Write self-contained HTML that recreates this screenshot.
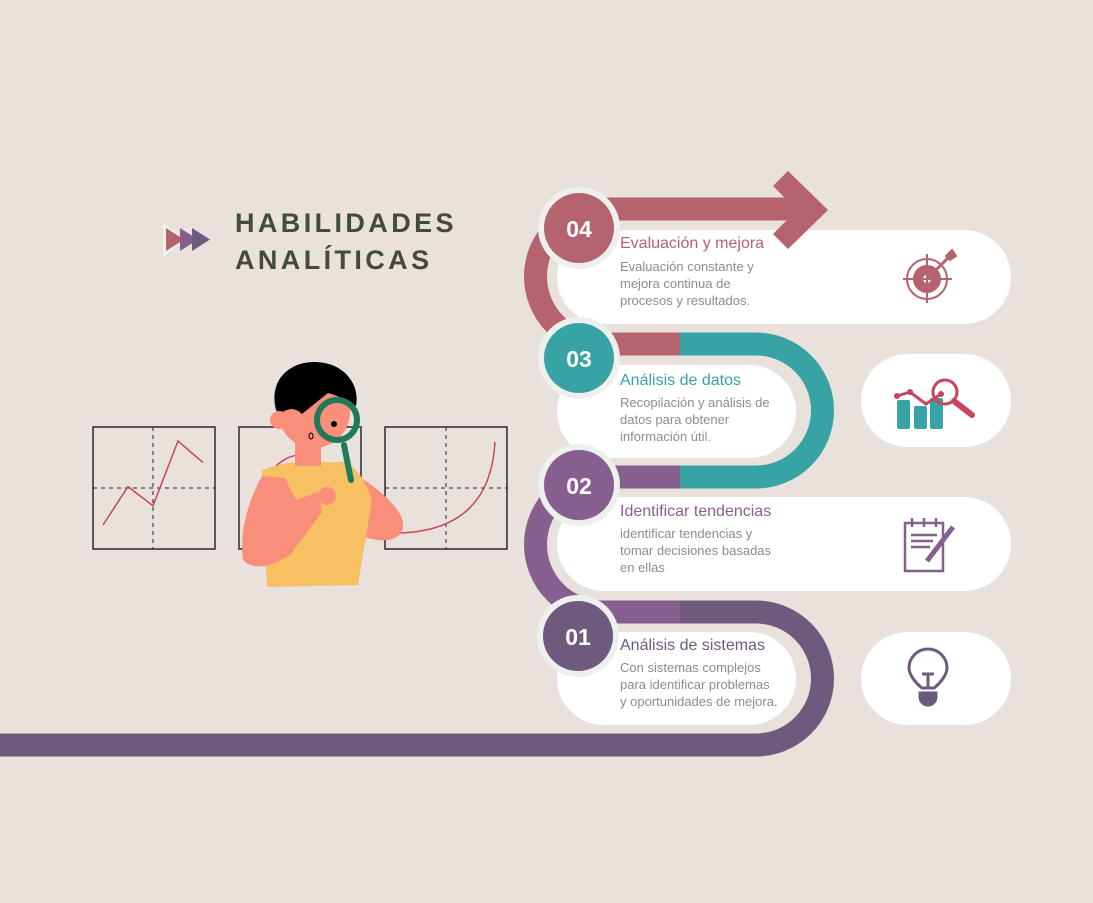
<!DOCTYPE html>
<html><head><meta charset="utf-8"><style>
html,body{margin:0;padding:0;background:#e8e1dc;}
svg{display:block;font-family:"Liberation Sans",sans-serif;}
</style></head><body>
<svg width="1093" height="903" viewBox="0 0 1093 903">
<rect width="1093" height="903" fill="#e8e1dc"/>
<!-- title -->
<g>
<polygon points="163,222 186,239.5 163,257" fill="#eef0ee"/>
<polygon points="166,228 184,239.5 166,251" fill="#b5636f"/>
<polygon points="180,228 198,239.5 180,251" fill="#865f8e"/>
<polygon points="192,228 210,239.5 192,251" fill="#6d5a7c"/>
</g>
<text x="235" y="232" font-size="27" font-weight="bold" letter-spacing="3.4" fill="#434a3f">HABILIDADES</text>
<text x="235" y="269" font-size="27" font-weight="bold" letter-spacing="3.4" fill="#434a3f">ANALÍTICAS</text>

<!-- path bands -->
<g fill="none" stroke-width="23">
<path d="M0,745 H756 A66.5,66.5 0 0 0 756,612 H680" stroke="#6d5a7c"/>
<path d="M680,612 H603 A67.5,67.5 0 0 1 603,477 H680" stroke="#865f8e"/>
<path d="M680,477 H756 A66.5,66.5 0 0 0 756,344 H680" stroke="#38a3a5"/>
<path d="M680,344 H603 A67.5,67.5 0 0 1 603,209 H805" stroke="#b5636f"/>
</g>

<!-- pills -->
<g fill="#ffffff">
<rect x="557" y="230" width="454" height="94" rx="47"/>
<rect x="557" y="365" width="239" height="93" rx="46.5"/>
<rect x="861" y="354" width="150" height="93" rx="46.5"/>
<rect x="557" y="497" width="454" height="94" rx="47"/>
<rect x="557" y="632" width="239" height="93" rx="46.5"/>
<rect x="861" y="632" width="150" height="93" rx="46.5"/>
</g>
<polygon points="773,186 788,171 828,210 788,249 773,234 797,210" fill="#b5636f"/>

<!-- circles -->
<g><circle cx="579" cy="228" r="41" fill="#eef0ee"/><circle cx="579" cy="228" r="35" fill="#b5636f"/><text x="579" y="237" font-size="23" font-weight="bold" fill="#fff" text-anchor="middle">04</text></g>
<g><circle cx="579" cy="358" r="41" fill="#eef0ee"/><circle cx="579" cy="358" r="35" fill="#38a3a5"/><text x="579" y="367" font-size="23" font-weight="bold" fill="#fff" text-anchor="middle">03</text></g>
<g><circle cx="579" cy="485" r="41" fill="#eef0ee"/><circle cx="579" cy="485" r="35" fill="#865f8e"/><text x="579" y="494" font-size="23" font-weight="bold" fill="#fff" text-anchor="middle">02</text></g>
<g><circle cx="578" cy="636" r="41" fill="#eef0ee"/><circle cx="578" cy="636" r="35" fill="#6d5a7c"/><text x="578" y="645" font-size="23" font-weight="bold" fill="#fff" text-anchor="middle">01</text></g>

<!-- texts -->
<g font-size="13" fill="#8c8c8c">
<text x="620" y="248" font-size="16" fill="#b5636f">Evaluación y mejora</text>
<text x="620" y="271"><tspan x="620">Evaluación constante y</tspan><tspan x="620" dy="17">mejora continua de</tspan><tspan x="620" dy="17">procesos y resultados.</tspan></text>
<text x="620" y="385" font-size="16" fill="#38a3a5">Análisis de datos</text>
<text x="620" y="407"><tspan x="620">Recopilación y análisis de</tspan><tspan x="620" dy="17">datos para obtener</tspan><tspan x="620" dy="17">información útil.</tspan></text>
<text x="620" y="516" font-size="16" fill="#865f8e">Identificar tendencias</text>
<text x="620" y="538"><tspan x="620">identificar tendencias y</tspan><tspan x="620" dy="17">tomar decisiones basadas</tspan><tspan x="620" dy="17">en ellas</tspan></text>
<text x="620" y="650" font-size="16" fill="#6d5a7c">Análisis de sistemas</text>
<text x="620" y="672"><tspan x="620">Con sistemas complejos</tspan><tspan x="620" dy="17">para identificar problemas</tspan><tspan x="620" dy="17">y oportunidades de mejora.</tspan></text>
</g>

<!-- icons -->
<g stroke="#b5636f" fill="none" stroke-width="2">
<circle cx="927" cy="279" r="20"/><circle cx="927" cy="279" r="13" fill="#b5636f"/><circle cx="927" cy="279" r="4" fill="#fff" stroke="none"/>
<line x1="927" y1="254" x2="927" y2="303"/><line x1="903" y1="279" x2="952" y2="279"/>
<line x1="927" y1="279" x2="952" y2="254" stroke-width="3"/><polygon points="946,256 952,250 956,256 950,260" fill="#b5636f"/>
</g>
<g>
<rect x="897" y="400" width="13" height="29" rx="2" fill="#38a3a5"/>
<rect x="914" y="406" width="13" height="23" rx="2" fill="#38a3a5"/>
<rect x="930" y="398" width="13" height="31" rx="2" fill="#38a3a5"/>
<polyline points="897,396 910,392 926,404 941,394" fill="none" stroke="#c9445f" stroke-width="3"/>
<circle cx="897" cy="396" r="3" fill="#c9445f"/><circle cx="910" cy="392" r="3" fill="#c9445f"/><circle cx="941" cy="394" r="3" fill="#c9445f"/>
<circle cx="945" cy="392" r="12" fill="none" stroke="#c9445f" stroke-width="3"/>
<line x1="954" y1="401" x2="972" y2="415" stroke="#c9445f" stroke-width="6" stroke-linecap="round"/>
</g>
<g stroke="#865f8e" fill="none" stroke-width="2.5">
<rect x="905" y="523" width="38" height="48"/>
<line x1="912" y1="518" x2="912" y2="527"/><line x1="924" y1="518" x2="924" y2="527"/><line x1="936" y1="518" x2="936" y2="527"/>
<line x1="911" y1="535" x2="937" y2="535"/><line x1="911" y1="541" x2="933" y2="541"/><line x1="911" y1="547" x2="930" y2="547"/>
<line x1="927" y1="561" x2="953" y2="527" stroke-width="5"/>
</g>
<g stroke="#6d5a7c" fill="none" stroke-width="3">
<path d="M922,688 C912,680 909,672 909,668 A19,19 0 1 1 947,668 C947,672 944,680 934,688 Z"/>
<line x1="922" y1="674" x2="934" y2="674"/><line x1="928" y1="674" x2="928" y2="688"/>
<path d="M920,693 H936 V697 A8,8 0 0 1 920,697 Z" fill="#6d5a7c"/>
</g>

<!-- illustration -->
<g>
<rect x="93" y="427" width="122" height="122" fill="none" stroke="#2a2a2a" stroke-width="1.5"/>
<line x1="153" y1="427" x2="153" y2="549" stroke="#222" stroke-dasharray="4,4"/>
<line x1="93" y1="488" x2="215" y2="488" stroke="#222" stroke-dasharray="4,4"/>
<polyline id="lineL" fill="none" stroke="#c9445f" stroke-width="1.5"/>
</g>
<g>
<rect x="239" y="427" width="122" height="122" fill="none" stroke="#2a2a2a" stroke-width="1.5"/>
<path d="M272,470 Q300,440 330,470" fill="none" stroke="#c9445f" stroke-width="1.5"/>
</g>
<g>
<rect x="385" y="427" width="122" height="122" fill="none" stroke="#2a2a2a" stroke-width="1.5"/>
<line x1="446" y1="427" x2="446" y2="549" stroke="#222" stroke-dasharray="4,4"/>
<line x1="385" y1="488" x2="507" y2="488" stroke="#222" stroke-dasharray="4,4"/>
<path d="M400,533 Q490,530 495,442" fill="none" stroke="#c9445f" stroke-width="1.5"/>
</g>
<g>
<path d="M335,466 C365,475 400,505 403,522 C405,540 385,545 362,536 Z" fill="#f98f7a"/>
<path d="M262,470 Q285,462 300,462 L345,462 Q362,470 372,500 L358,585 L267,587 Z" fill="#f6c063"/>
<path d="M262,476 Q238,520 243,560 Q258,575 290,555 L322,512 L318,492 L296,500 L285,478 Z" fill="#f98f7a"/>
<rect x="295" y="438" width="26" height="28" fill="#f98f7a"/>
<circle cx="314" cy="412" r="36" fill="#f98f7a"/>
<path d="M276,410 C268,378 292,361 316,362 C345,363 360,385 356,406 Q340,396 328,393 L302,414 Q292,404 280,414 Z" fill="#000"/>
<circle cx="279" cy="420" r="9" fill="#f98f7a"/>
<circle cx="337" cy="420" r="20" fill="none" stroke="#1f7a5a" stroke-width="6"/>
<line x1="344" y1="445" x2="351" y2="480" stroke="#1f7a5a" stroke-width="6" stroke-linecap="round"/>
<circle cx="334" cy="424" r="3" fill="#000"/>
<ellipse cx="311" cy="436" rx="2" ry="3" fill="none" stroke="#000"/>
<circle cx="327" cy="496" r="9" fill="#f98f7a"/>
</g>
<script>
// left mini chart data
var lineVals = [10, 42, 26, 80, 62];
var lineX = [0, 1, 2, 3, 4];
var sx = function(i){ return 103 + i * 25; };
var sy = function(v){ return 537 - v * 1.2; };
var pts = lineVals.map(function(v,i){ return sx(lineX[i]) + ',' + sy(v); }).join(' ');
var pl = document.getElementById('lineL');
pl.setAttribute('points', pts);


</script>
</svg>
</body></html>
